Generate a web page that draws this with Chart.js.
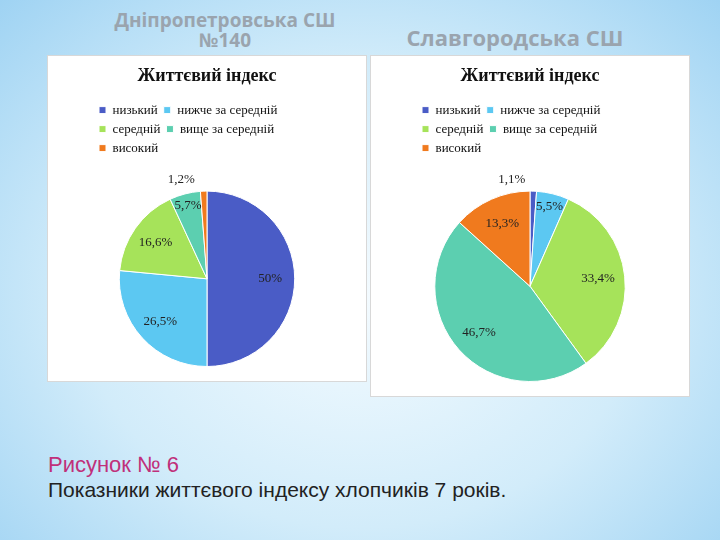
<!DOCTYPE html>
<html>
<head>
<meta charset="utf-8">
<script src="https://cdn.jsdelivr.net/npm/chart.js@4.4.0/dist/chart.umd.min.js"></script>
<style>
body{margin:0;width:720px;height:540px;overflow:hidden;position:relative;
 background:radial-gradient(ellipse at 50% 55%,#f4fbff 0%,#d2ecfa 55%,#9fd3f3 100%);font-family:"Open Sans",sans-serif;}
.head{position:absolute;font-family:"Open Sans",sans-serif;font-weight:bold;color:#9aa4ae;text-align:center;line-height:20px;}
.panel{position:absolute;background:#fff;border:1px solid #d8d8d8;}
#cap1{position:absolute;left:48px;top:452px;font-family:"Liberation Sans",Arial,sans-serif;font-size:22px;color:#c0307a;}
#cap2{position:absolute;left:48px;top:478px;font-family:"Liberation Sans",Arial,sans-serif;font-size:21px;color:#222;}
</style>
</head>
<body>
<div class="head" style="left:110px;top:10px;width:230px;font-size:19px;">Дніпропетровська СШ<br>№140</div>
<div class="head" style="left:380px;top:27px;width:270px;font-size:22px;">Славгородська СШ</div>
<div class="panel" style="left:47px;top:55px;width:318px;height:325px;"><canvas id="c1" width="318" height="325"></canvas></div>
<div class="panel" style="left:370px;top:55px;width:318px;height:340px;"><canvas id="c2" width="318" height="340"></canvas></div>
<div id="cap1">Рисунок № 6</div>
<div id="cap2">Показники життєвого індексу хлопчиків 7 років.</div>
<script>
var categories = ['низький', 'нижче за середній', 'середній', 'вище за середній', 'високий'];
var dnipro = [50, 26.5, 16.6, 5.7, 1.2];
var slavh = [1.1, 5.5, 33.4, 46.7, 13.3];
var colors = ['#4a5cc6', '#5cc8f2', '#a6e35a', '#5ccfb0', '#f07a1e'];

// extra gap under the legend
var legendGap = {
    id: 'legendGap',
    beforeInit: function(chart) {
        var fit = chart.legend.fit;
        chart.legend.fit = function() {
            fit.bind(chart.legend)();
            this.height += 26;
        };
    }
};

var pctLabels = {
    id: 'pctLabels',
    afterDatasetsDraw: function(chart) {
        var ctx = chart.ctx;
        var meta = chart.getDatasetMeta(0);
        var vals = chart.data.datasets[0].data;
        ctx.save();
        ctx.font = '13px "Liberation Serif", serif';
        ctx.fillStyle = '#222';
        ctx.textAlign = 'center';
        ctx.textBaseline = 'middle';
        meta.data.forEach(function(arc, i) {
            var a = (arc.startAngle + arc.endAngle) / 2;
            var r = arc.outerRadius * 0.72;
            if (vals[i] < 10) r = arc.outerRadius * 0.86;
            if (vals[i] < 2) r = arc.outerRadius + 12;
            var x = arc.x + Math.cos(a) * r;
            var y = arc.y + Math.sin(a) * r;
            if (vals[i] < 2) x -= 22;
            ctx.fillText(String(vals[i]).replace('.', ',') + '%', x, y);
        });
        ctx.restore();
    }
};

function makePie(id, values) {
    new Chart(document.getElementById(id), {
        type: 'pie',
        data: {
            labels: categories,
            datasets: [{data: values, backgroundColor: colors, borderColor: '#fff', borderWidth: 1}]
        },
        options: {
            responsive: false,
            animation: false,
            layout: {padding: {left: 45, right: 45, top: 4, bottom: 14}},
            plugins: {
                title: {display: true, text: 'Життєвий індекс', color: '#111',
                    font: {family: '"Liberation Serif", serif', size: 18, weight: 'bold'}, padding: {top: 6, bottom: 10}},
                legend: {position: 'top', align: 'start',
                    labels: {boxWidth: 7, boxHeight: 7, color: '#111', padding: 6,
                        font: {family: '"Liberation Serif", serif', size: 13}}},
                tooltip: {enabled: false}
            }
        },
        plugins: [legendGap, pctLabels]
    });
}

makePie('c1', dnipro);
makePie('c2', slavh);
</script>
</body>
</html>
